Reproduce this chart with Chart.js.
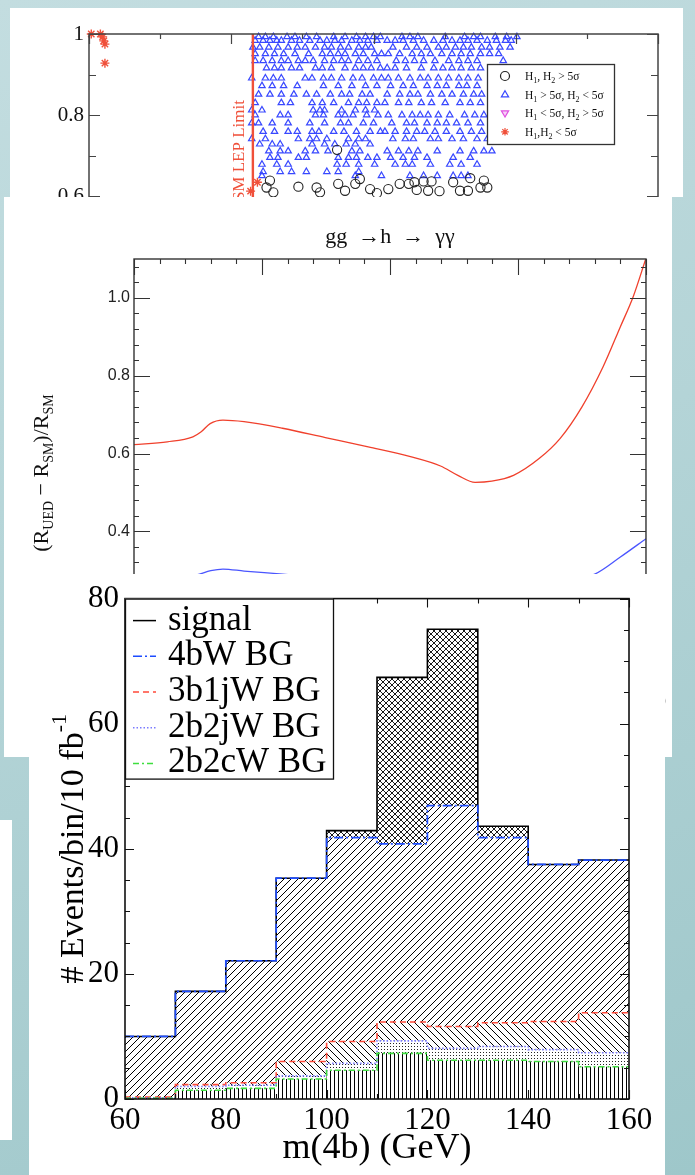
<!DOCTYPE html>
<html><head><meta charset="utf-8">
<script src="https://cdn.jsdelivr.net/npm/chart.js@4/dist/chart.umd.min.js"></script>
<style>
html,body{margin:0;padding:0;}
body{width:695px;height:1175px;position:relative;overflow:hidden;
 background:linear-gradient(160deg,#c3dde0 0%,#b4d4d7 45%,#9ec7ca 100%);}
.panel{position:absolute;background:#fff;overflow:hidden;}
#p1{left:10px;top:8px;width:673px;height:189px;}
#p2{left:4px;top:197px;width:668px;height:560px;}
#p3{left:29px;top:574px;width:636px;height:601px;}
#strip{position:absolute;background:#fff;left:0;top:820px;width:12px;height:320px;}
canvas{display:block;}
</style></head>
<body>
<div class="panel" id="p1"><canvas id="c1" width="673" height="330"></canvas></div>
<div class="panel" id="p2"><canvas id="c2" width="668" height="560"></canvas></div>
<div id="strip"></div>
<div class="panel" id="p3"><canvas id="c3" width="636" height="601"></canvas></div>
<script>
// ================= DATA =================
// Panel 1: scan points (x: Higgs mass axis, y: ratio)
const lepLimit = 114.4;
const starPts = [[100.2,1.0],[101.0,1.0],[101.2,0.993],[101.3,0.983],[101.4,0.975],[101.4,0.928],[114.8,0.634],[114.2,0.612]];
const circlePts = [[115.9,0.638],[115.6,0.621],[116.2,0.609],[118.4,0.623],[120.0,0.621],[120.3,0.609],[121.9,0.630],[122.5,0.613],[123.4,0.630],[123.8,0.642],[124.7,0.617],[125.3,0.607],[121.8,0.714],[126.3,0.617],[127.3,0.630],[128.1,0.630],[128.6,0.634],[129.4,0.636],[130.1,0.636],[128.8,0.615],[129.8,0.613],[130.8,0.612],[132.0,0.634],[132.6,0.613],[133.3,0.613],[133.5,0.644],[134.4,0.621],[134.7,0.638],[135.0,0.621]];
const triangleRows = [
 [0.993,[114.9,115.5,116.2,117.4,118.1,119.1,120.0,121.5,122.5,123.5,124.3,125.0,125.6,127.5,128.2,128.9,131.3,133.0,133.8,134.4,135.7,136.7,137.6]],
 [0.984,[114.6,115.3,115.9,116.5,116.9,117.8,118.5,119.4,120.3,120.9,121.6,122.2,123.1,123.8,124.5,125.3,126.2,126.9,127.6,128.5,129.4,130.3,131.1,131.9,132.6,133.3,134.1,135.0,135.8,136.6,137.1]],
 [0.967,[114.4,115.0,115.8,116.6,117.5,118.3,119.0,119.9,120.7,121.3,122.1,122.8,123.7,124.3,124.8,126.7,127.9,128.8,129.7,130.7,131.4,132.2,132.9,133.6,134.5,135.2,136.1,137.0]],
 [0.951,[114.6,115.5,116.3,117.1,118.1,119.3,120.5,121.2,121.9,122.5,123.4,124.1,125.1,125.7,126.3,127.3,128.4,129.2,130.0,131.0,131.9,132.7,133.5,134.4,135.2,136.0]],
 [0.934,[114.6,115.3,116.1,116.9,117.5,118.4,119.0,119.7,120.7,121.5,122.2,122.8,123.7,124.5,125.3,127.0,127.8,128.6,129.4,130.4,131.6,132.5,133.3,134.1,136.4]],
 [0.916,[115.6,116.3,116.9,117.8,118.5,119.9,120.5,121.3,122.5,123.4,124.1,124.8,125.6,126.2,126.9,127.9,129.2,130.3,131.1,131.9,132.7,133.6,134.4]],
 [0.891,[114.3,115.5,116.2,116.9,119.0,119.6,120.6,121.3,122.2,123.2,124.0,125.0,125.7,126.3,127.2,128.2,129.1,129.8,130.7,131.6,132.5,133.3,134.2]],
 [0.872,[115.2,116.1,117.1,118.3,120.6,121.9,123.1,124.3,125.3,126.5,127.6,128.5,129.7,130.6,131.4,132.5,133.2,134.1]],
 [0.851,[114.9,115.9,116.9,118.0,119.1,120.0,121.2,122.2,122.9,124.0,124.7,126.2,127.3,128.2,128.9,130.0,131.0,131.9,132.9,133.8,134.5]],
 [0.830,[114.6,116.9,117.7,119.6,120.5,121.5,122.8,123.7,124.4,125.3,126.0,127.2,128.1,129.2,130.1,131.3,132.6,133.5,134.4]],
 [0.812,[114.3,115.2,119.7,120.3,120.7,122.2,123.4,124.3,125.1]],
 [0.800,[114.6,116.8,117.5,119.9,120.6,121.9,122.5,123.2,124.4,125.4,126.3,127.5,128.4,129.1,129.8,130.7,131.7,133.0,133.9,134.7]],
 [0.780,[114.3,114.9,116.1,117.5,119.4,120.7,122.1,122.8,124.1,125.0,126.6,127.9,128.6,129.7,130.6,131.4,132.3,133.3,134.4]],
 [0.759,[115.3,116.3,117.5,118.3,119.6,120.2,121.5,122.4,123.5,124.7,125.6,126.0,126.9,127.9,128.8,129.5,130.4,131.4,132.6,133.6,134.5]],
 [0.741,[114.3,115.5,118.4,119.4,120.0,120.9,122.8,123.7,124.3,126.7,127.8,128.5,130.0,130.7,131.9,132.9,134.1,135.0]],
 [0.728,[115.0,116.1,116.8,119.6,120.7,121.6,122.6,123.4,124.7]],
 [0.711,[115.8,116.8,117.5,119.0,119.9,121.0,123.1,123.8,126.2,127.2,128.1,128.9,130.6,132.6,133.8,134.7,135.4]],
 [0.695,[115.9,116.6,118.4,119.1,121.9,122.8,123.5,124.5,125.3,126.5,127.6,128.6,129.7,132.0,133.5]],
 [0.678,[115.2,116.5,117.5,121.8,122.6,123.7,125.1,126.9,127.8,128.4,130.0,131.7,132.7,134.1]],
 [0.660,[115.3,116.8,117.8,119.1,120.9,121.9,123.7]],
 [0.650,[115.2,123.4,125.7,128.2,129.4,130.6,132.0,132.7,133.3]]
];
const p1Labels = ['H_1, H_2 > 5σ','H_1 > 5σ, H_2 < 5σ','H_1 < 5σ, H_2 > 5σ','H_1,H_2 < 5σ'];

// Panel 2: gg -> h -> γγ ratio curves
const p2X_red  = [200,252,292,305,319,339,372,432,499,566,632,679,706,733,759,793,833,866,900,933,960,980,1000];
const p2Y_red  = [0.623,0.630,0.643,0.656,0.677,0.686,0.682,0.665,0.641,0.617,0.592,0.568,0.544,0.526,0.529,0.544,0.587,0.639,0.720,0.823,0.926,1.003,1.102];
const p2X_blue = [200,260,298,320,339,372,432,500,600,680,733,790,850,920,960,1000];
const p2Y_blue = [0.272,0.278,0.288,0.299,0.303,0.298,0.290,0.280,0.268,0.255,0.245,0.250,0.265,0.290,0.334,0.381];
const p2Title = 'gg  →h  →  γγ';
const p2YTitle = '(R_{UED} − R_{SM})/R_{SM}';

// Panel 3: m(4b) histogram (cumulative tops per bin)
const binEdges = [60,70,80,90,100,110,120,130,140,150,160];
const signalTop = [10.0,17.2,22.1,35.3,42.9,67.4,75.1,43.6,37.5,38.2];
const bg4bW     = [10.0,17.2,22.1,35.3,41.8,40.8,46.9,41.8,37.5,38.2];
const bg3b1jW   = [0.3,2.3,2.6,6.0,9.2,12.3,11.6,12.2,12.4,13.8];
const bg2b2jW   = [0.2,2.0,2.2,3.7,5.7,9.3,8.1,8.4,7.9,7.4];
const bg2b2cW   = [0.1,1.4,1.7,3.2,4.6,7.3,6.2,6.2,6.0,5.15];
const p3XTitle = 'm(4b) (GeV)';
const p3YTitle = '# Events/bin/10 fb^{-1}';

// ================= HELPERS =================
const SERIF = '"Liberation Serif","DejaVu Serif","Times New Roman",serif';
const SANS = '"Liberation Sans","DejaVu Sans",Arial,sans-serif';

function parseRich(s){
  const parts=[]; const re=/_\{([^}]*)\}|_(.)|\^\{([^}]*)\}|\^(.)/g; let last=0,m;
  while((m=re.exec(s))){
    if(m.index>last) parts.push({t:s.slice(last,m.index),k:0});
    if(m[1]!==undefined||m[2]!==undefined) parts.push({t:(m[1]!==undefined?m[1]:m[2]),k:-1});
    else parts.push({t:(m[3]!==undefined?m[3]:m[4]),k:1});
    last=re.lastIndex;
  }
  if(last<s.length) parts.push({t:s.slice(last),k:0});
  return parts;
}
function drawRich(ctx,s,x,y,o){
  const parts=parseRich(s), size=o.size;
  const fontFor=k=>(k?Math.round(size*(o.scriptScale||0.68)):size)+'px '+(o.family||SERIF);
  let w=0; parts.forEach(p=>{ctx.font=fontFor(p.k);p.w=ctx.measureText(p.t).width;w+=p.w;});
  ctx.save(); ctx.translate(x,y); if(o.rotate) ctx.rotate(o.rotate);
  ctx.fillStyle=o.color||'#000'; ctx.textBaseline='alphabetic'; ctx.textAlign='left';
  let cx=o.align==='center'?-w/2:(o.align==='right'?-w:0);
  parts.forEach(p=>{ctx.font=fontFor(p.k);
    const dy=p.k<0?size*(o.subDy||0.28):(p.k>0?-size*(o.supDy||0.42):0);
    ctx.fillText(p.t,cx,dy); cx+=p.w;});
  ctx.restore(); return w;
}
function minorValues(scale,n){
  const t=scale.ticks.map(k=>k.value); if(t.length<2||!n) return [];
  const step=(t[1]-t[0])/n, out=[];
  let v=t[0]-step*Math.floor((t[0]-scale.min)/step+1e-9);
  for(;v<=scale.max+step*1e-6;v+=step){
    if(v<scale.min-step*1e-6) continue;
    if(!t.some(m=>Math.abs(m-v)<step*1e-3)) out.push(v);
  }
  return out;
}
function makeFrame(o){
  return {id:'frame',afterDatasetsDraw(chart){
    const ctx=chart.ctx,a=chart.chartArea,xs=chart.scales.x,ys=chart.scales.y;
    ctx.save(); ctx.strokeStyle=o.color; ctx.lineWidth=o.width;
    const tx=(vals,len)=>vals.forEach(v=>{const p=Math.round(xs.getPixelForValue(v))+0.5;
      ctx.beginPath();ctx.moveTo(p,a.bottom);ctx.lineTo(p,a.bottom-len);ctx.moveTo(p,a.top);ctx.lineTo(p,a.top+len);ctx.stroke();});
    const ty=(vals,len)=>vals.forEach(v=>{const p=Math.round(ys.getPixelForValue(v))+0.5;
      ctx.beginPath();ctx.moveTo(a.left,p);ctx.lineTo(a.left+len,p);ctx.moveTo(a.right,p);ctx.lineTo(a.right-len,p);ctx.stroke();});
    ctx.lineWidth=o.tickWidth||1;
    tx(xs.ticks.map(t=>t.value),o.xMajor); tx(minorValues(xs,o.xMinorN),o.xMinor);
    ty(ys.ticks.map(t=>t.value),o.yMajor); ty(minorValues(ys,o.yMinorN),o.yMinor);
    ctx.lineWidth=o.width;
    ctx.strokeRect(a.left,a.top,a.right-a.left,a.bottom-a.top);
    ctx.restore();
  }};
}
function drawMarker(ctx,style,x,y,r,stroke,fill,rot,lw){
  ctx.save(); ctx.translate(x,y); if(rot) ctx.rotate(rot*Math.PI/180);
  ctx.strokeStyle=stroke; ctx.fillStyle=fill||'rgba(0,0,0,0)'; ctx.lineWidth=lw||1;
  ctx.beginPath();
  if(style==='circle'){ctx.arc(0,0,r,0,Math.PI*2);ctx.fill();ctx.stroke();}
  else if(style==='triangle'){ctx.moveTo(0,-r);ctx.lineTo(r*0.95,r*0.6);ctx.lineTo(-r*0.95,r*0.6);ctx.closePath();ctx.fill();ctx.stroke();}
  else if(style==='star'){for(let i=0;i<4;i++){const an=i*Math.PI/4;ctx.moveTo(-r*Math.cos(an),-r*Math.sin(an));ctx.lineTo(r*Math.cos(an),r*Math.sin(an));}ctx.stroke();}
  ctx.restore();
}
function pattern(kind){
  const c=document.createElement('canvas'),g=c.getContext('2d');let s;
  g.strokeStyle='#000';g.fillStyle='#000';
  if(kind==='slash'||kind==='back'){s=7;c.width=c.height=s;g.lineWidth=1;g.beginPath();
    if(kind==='slash'){g.moveTo(-1,s+1);g.lineTo(s+1,-1);g.moveTo(-2,2);g.lineTo(2,-2);g.moveTo(s-2,s+2);g.lineTo(s+2,s-2);}
    else{g.moveTo(-1,-1);g.lineTo(s+1,s+1);g.moveTo(-2,s-2);g.lineTo(2,s+2);g.moveTo(s-2,-2);g.lineTo(s+2,2);}
    g.stroke();}
  else if(kind==='cross'){s=6;c.width=c.height=s;g.lineWidth=0.9;g.beginPath();
    g.moveTo(-1,s+1);g.lineTo(s+1,-1);g.moveTo(-1,-1);g.lineTo(s+1,s+1);
    g.moveTo(-2,2);g.lineTo(2,-2);g.moveTo(s-2,s+2);g.lineTo(s+2,s-2);
    g.moveTo(-2,s-2);g.lineTo(2,s+2);g.moveTo(s-2,-2);g.lineTo(s+2,2);g.stroke();}
  else if(kind==='vert'){s=4;c.width=s;c.height=s;g.fillRect(1,0,1,s);}
  else if(kind==='dots'){s=3;c.width=c.height=s;g.fillStyle='rgba(0,0,0,0.85)';g.fillRect(1,1,1,1);}
  return g.createPattern(c,'repeat');
}
const noGrid={display:false,drawTicks:false};

// ================= PANEL 1 =================
const triPts=[]; triangleRows.forEach(r=>r[1].forEach(x=>triPts.push({x,y:r[0]})));
const RED1='#f0503a';
new Chart(document.getElementById('c1'),{
  type:'scatter',
  data:{datasets:[
    {type:'line',label:'SM LEP Limit',data:[{x:lepLimit,y:0.4},{x:lepLimit,y:1.0}],borderColor:RED1,borderWidth:2.4,pointRadius:0,clip:false},
    {label:p1Labels[3],data:starPts.map(p=>({x:p[0],y:p[1]})),pointStyle:'star',pointRadius:4.5,pointBorderColor:RED1,pointBackgroundColor:RED1,pointBorderWidth:1.4,clip:false},
    {label:p1Labels[0],data:circlePts.map(p=>({x:p[0],y:p[1]})),pointStyle:'circle',pointRadius:4.6,pointBorderColor:'#222',pointBackgroundColor:'rgba(0,0,0,0)',pointBorderWidth:1.1,clip:false},
    {label:p1Labels[1],data:triPts,pointStyle:'triangle',pointRadius:3.7,pointBorderColor:'#3848ff',pointBackgroundColor:'rgba(0,0,0,0)',pointBorderWidth:1.2,clip:false},
    {label:p1Labels[2],data:[],pointStyle:'triangle',pointRotation:180,pointRadius:3.7,pointBorderColor:'#e050e0',pointBackgroundColor:'rgba(240,160,240,0.5)'}
  ]},
  options:{responsive:false,animation:false,devicePixelRatio:1,
    layout:{padding:{top:26,right:25,left:0,bottom:0}},
    plugins:{legend:{display:false},tooltip:{enabled:false}},
    scales:{
      x:{type:'linear',min:100,max:150,ticks:{stepSize:12.5,display:false},grid:noGrid,border:{display:false},afterFit:s=>{s.height=61;}},
      y:{min:0.4,max:1.0,ticks:{stepSize:0.2,padding:5,color:'#111',font:{family:SERIF,size:21},
          callback:v=>Math.abs(v-1)<1e-6?'1':v.toFixed(1)},grid:noGrid,border:{display:false},afterFit:s=>{s.width=79;}}
    }},
  plugins:[makeFrame({color:'#444',width:1.5,tickWidth:1.2,xMajor:10,xMinor:5,xMinorN:2,yMajor:11,yMinor:7,yMinorN:2}),
   {id:'p1deco',afterDraw(chart){
     const ctx=chart.ctx,a=chart.chartArea,xs=chart.scales.x,ys=chart.scales.y;
     // SM LEP Limit label
     ctx.save(); ctx.translate(xs.getPixelForValue(lepLimit)-13,ys.getPixelForValue(0.837));
     ctx.rotate(-Math.PI/2); ctx.fillStyle=RED1; ctx.font='17px '+SERIF; ctx.textAlign='right'; ctx.textBaseline='middle';
     ctx.fillText(chart.data.datasets[0].label,0,0); ctx.restore();
     // legend
     const order=[2,3,4,1]; const bx=a.right-171, by=a.top+30, bw=127, bh=80;
     ctx.save(); ctx.fillStyle='#fff'; ctx.fillRect(bx,by,bw,bh); ctx.strokeStyle='#333'; ctx.lineWidth=1.3; ctx.strokeRect(bx+0.5,by+0.5,bw,bh);
     order.forEach((di,i)=>{const d=chart.data.datasets[di]; const cy=by+12+18.6*i;
       drawMarker(ctx,d.pointStyle,bx+18,cy,d.pointStyle==='circle'?4.5:3.8,d.pointBorderColor,d.pointBackgroundColor,d.pointRotation||0,1.2);
       drawRich(ctx,d.label,bx+38,cy+4,{size:11.5,family:SERIF,color:'#111',scriptScale:0.7});});
     ctx.restore();
   }}]
});

// ================= PANEL 2 =================
new Chart(document.getElementById('c2'),{
  type:'line',
  data:{datasets:[
    {label:'red',data:p2X_red.map((x,i)=>({x,y:p2Y_red[i]})),borderColor:'#f0402c',borderWidth:1.3,pointRadius:0,cubicInterpolationMode:'monotone'},
    {label:'blue',data:p2X_blue.map((x,i)=>({x,y:p2Y_blue[i]})),borderColor:'#4a55ff',borderWidth:1.3,pointRadius:0,cubicInterpolationMode:'monotone'}
  ]},
  options:{responsive:false,animation:false,devicePixelRatio:1,
    layout:{padding:{top:62,right:7,left:0,bottom:0}},
    plugins:{legend:{display:false},tooltip:{enabled:false}},
    scales:{
      x:{type:'linear',min:200,max:1000,ticks:{stepSize:200,padding:6,color:'#222',font:{family:SANS,size:16}},grid:noGrid,border:{display:false},afterFit:s=>{s.height=70;}},
      y:{min:0,max:1.1,ticks:{stepSize:0.2,includeBounds:false,padding:4,color:'#222',font:{family:SANS,size:16},callback:v=>v.toFixed(1)},grid:noGrid,border:{display:false},afterFit:s=>{s.width=130;}}
    }},
  plugins:[makeFrame({color:'#333',width:1.4,tickWidth:1.1,xMajor:16,xMinor:5,xMinorN:5,yMajor:16,yMinor:5,yMinorN:5}),
   {id:'p2deco',afterDraw(chart){
     const ctx=chart.ctx,a=chart.chartArea;
     drawRich(ctx,p2Title,(a.left+a.right)/2,46,{size:22,family:SERIF,color:'#111',align:'center'});
     drawRich(ctx,p2YTitle,44,(a.top+a.bottom)/2,{size:22,family:SERIF,color:'#111',align:'center',rotate:-Math.PI/2,scriptScale:0.62,subDy:0.22});
   }}]
});

// ================= PANEL 3 =================
const steps=vals=>binEdges.map((x,i)=>({x,y:vals[Math.min(i,vals.length-1)]}));
new Chart(document.getElementById('c3'),{
  type:'line',
  data:{datasets:[
    {label:'2b2cW BG',data:steps(bg2b2cW),stepped:true,borderColor:'#3ede3e',borderDash:[6,3,2,3],borderWidth:1.6,pointRadius:0,fill:'origin',backgroundColor:pattern('vert')},
    {label:'2b2jW BG',data:steps(bg2b2jW),stepped:true,borderColor:'#7b7bff',borderDash:[1.5,2],borderWidth:1.6,pointRadius:0,fill:'-1',backgroundColor:pattern('dots')},
    {label:'3b1jW BG',data:steps(bg3b1jW),stepped:true,borderColor:'#ff4a3a',borderDash:[6,4],borderWidth:1.6,pointRadius:0,fill:'-1',backgroundColor:pattern('back')},
    {label:'4bW BG',data:steps(bg4bW),stepped:true,borderColor:'#1d4cff',borderDash:[9,3,2,3],borderWidth:1.7,pointRadius:0,fill:'-1',backgroundColor:pattern('slash')},
    {label:'signal',data:steps(signalTop),stepped:true,borderColor:'#000',borderWidth:1.6,pointRadius:0,fill:'-1',backgroundColor:pattern('cross')}
  ]},
  options:{responsive:false,animation:false,devicePixelRatio:1,
    layout:{padding:{top:23,right:36,left:0,bottom:0}},
    plugins:{legend:{display:false},tooltip:{enabled:false}},
    scales:{
      x:{type:'linear',min:60,max:160,ticks:{stepSize:20,padding:3,color:'#000',font:{family:SERIF,size:31}},grid:noGrid,border:{display:false},afterFit:s=>{s.height=76;}},
      y:{min:0,max:80,ticks:{stepSize:20,padding:6,color:'#000',font:{family:SERIF,size:31}},grid:noGrid,border:{display:false},afterFit:s=>{s.width=96;}}
    }},
  plugins:[makeFrame({color:'#111',width:1.6,tickWidth:1.1,xMajor:9,xMinor:5,xMinorN:2,yMajor:9,yMinor:5,yMinorN:4}),
   {id:'p3deco',afterDraw(chart){
     const ctx=chart.ctx,a=chart.chartArea;
     // legend
     const ds=chart.data.datasets.slice().reverse();
     const bx=a.left, by=a.top, bw=208, bh=180;
     ctx.save(); ctx.fillStyle='#fff'; ctx.fillRect(bx,by,bw,bh); ctx.strokeStyle='#111'; ctx.lineWidth=1.3; ctx.strokeRect(bx+0.5,by+0.5,bw,bh);
     ds.forEach((d,i)=>{const cy=by+20+35.7*i;
       ctx.save(); ctx.strokeStyle=d.borderColor; ctx.lineWidth=1.5; ctx.setLineDash(d.borderDash||[]);
       ctx.beginPath(); ctx.moveTo(bx+8,cy+2); ctx.lineTo(bx+31,cy+2); ctx.stroke(); ctx.restore();
       drawRich(ctx,d.label,bx+43,cy+11,{size:35,family:SERIF,color:'#000'});});
     ctx.restore();
     drawRich(ctx,p3XTitle,(a.left+a.right)/2,584,{size:36,family:SERIF,color:'#000',align:'center'});
     drawRich(ctx,p3YTitle,54,(a.top+a.bottom)/2,{size:34,family:SERIF,color:'#000',align:'center',rotate:-Math.PI/2,scriptScale:0.65,supDy:0.5});
   }}]
});
</script>
</body></html>
